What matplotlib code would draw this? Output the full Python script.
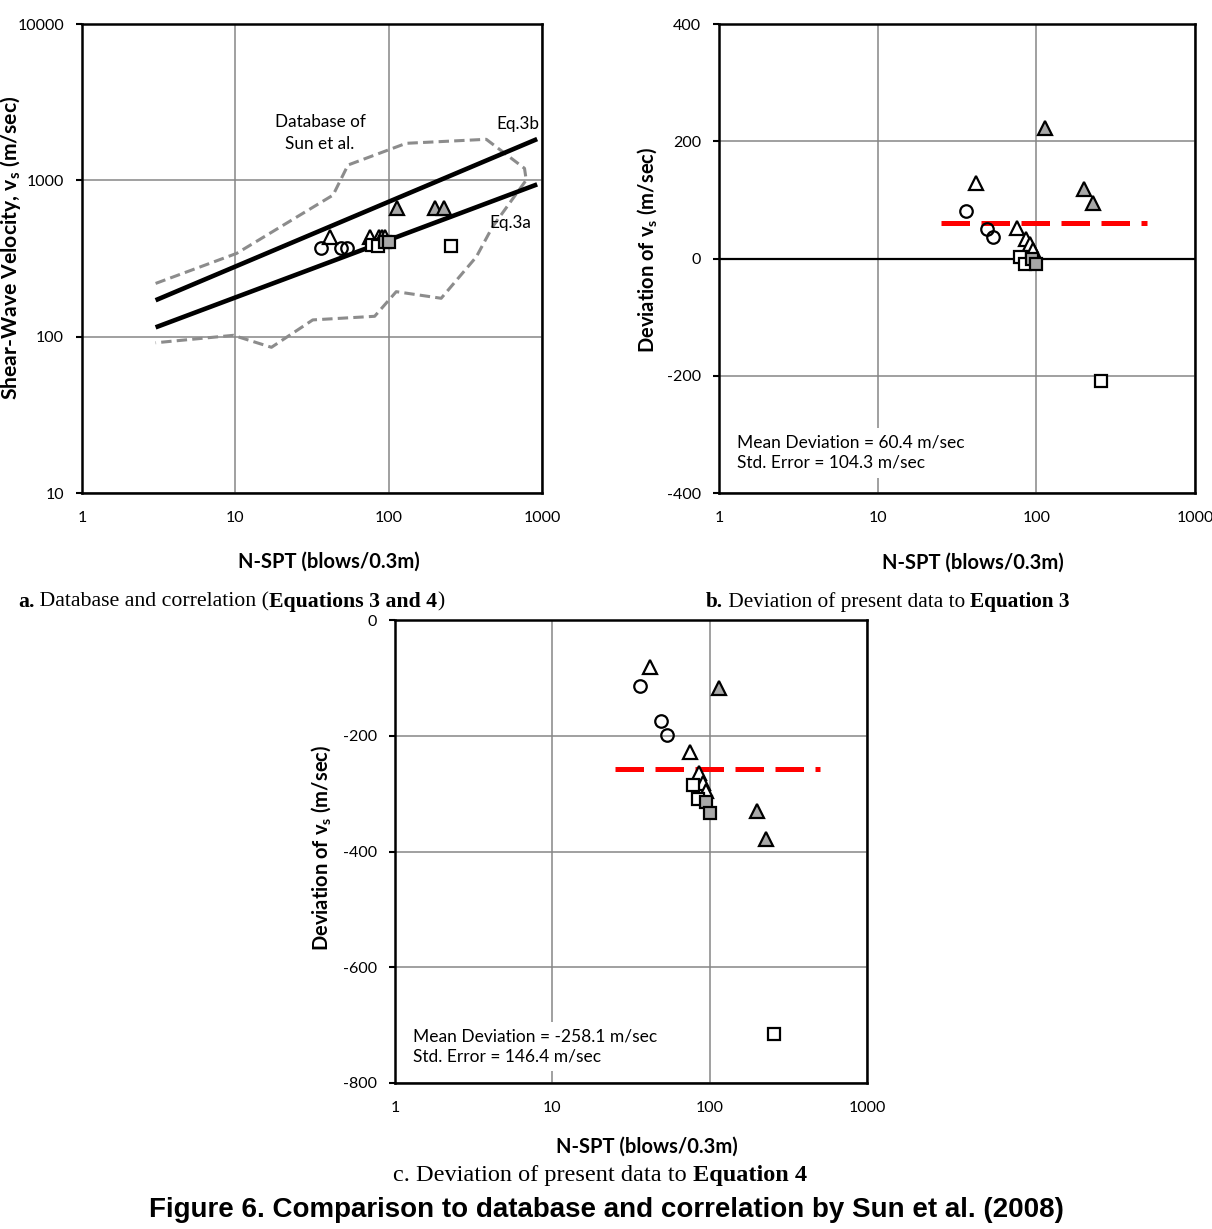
import matplotlib
matplotlib.use("Agg")
import matplotlib.pyplot as plt
import numpy as np

plt.rcParams['font.family'] = ['Lato', 'DejaVu Sans']
plt.rcParams['mathtext.fontset'] = 'custom'
plt.rcParams['mathtext.rm'] = 'Lato'
plt.rcParams['mathtext.bf'] = 'Lato:bold'
plt.rcParams['mathtext.it'] = 'Lato:italic'

W, H = 1212, 1229

# ---------------- data ----------------
n_circle = [36.2, 48.7, 53.2]
n_tri_open = [41.7, 75.5, 86, 90.6, 95.3]
n_tri_gray = [114, 201, 228]
n_sq_open = [78.4, 84.7, 256]
n_sq_gray = [94.5, 100]

vs_circle = [367, 367, 367]
vs_tri_open = [435, 435, 435, 435, 435]
vs_tri_gray = [662, 662, 662]
vs_sq_open = [383, 380, 382]
vs_sq_gray = [405, 405]

dev3_circle = [81, 50, 37]
dev3_tri_open = [128, 52.5, 33.6, 24, 15]
dev3_tri_gray = [222, 118, 95]
dev3_sq_open = [3, -10, -208.5]
dev3_sq_gray = [-1.7, -10]

dev4_circle = [-114, -175, -199.5]
dev4_tri_open = [-80.5, -228, -265, -281.5, -296]
dev4_tri_gray = [-118, -330, -379]
dev4_sq_open = [-285.6, -310, -715.5]
dev4_sq_gray = [-315, -333]

eq_n = [3.02, 930]
eq3a_vs = [114.7, 942]
eq3b_vs = [171, 1837]

db_n = [3.02, 10.2, 43.4, 54.3, 130, 433, 769, 789, 476, 373, 220, 112, 81, 32, 17.2, 9.7, 3.02]
db_vs = [219, 341, 805, 1253, 1725, 1830, 1193, 1004, 505, 324, 176, 194, 135, 128, 85.5, 102, 91.4]

mean_n = [25, 500]
mean_dev3 = 60.4
mean_dev4 = -258.1
std3 = 104.3
std4 = 146.4

x_ticks = [1, 10, 100, 1000]
x_ticklabels = ['1', '10', '100', '1000']
ya_ticks = [10, 100, 1000, 10000]
ya_ticklabels = ['10', '100', '1000', '10000']
yb_ticks = [-400, -200, 0, 200, 400]
yc_ticks = [-800, -600, -400, -200, 0]

GRID = '#868686'
GRAY_FILL = '#a8a8a8'
TICK_FS = 11.5

fig = plt.figure(figsize=(W / 100, H / 100), dpi=100)


def ax_rect(l, r, t, b):
    return [l / W, 1 - b / H, (r - l) / W, (b - t) / H]


def style_axes(ax):
    for s in ax.spines.values():
        s.set_linewidth(1.8)
        s.set_color('black')
    ax.grid(True, which='major', color=GRID, linewidth=1.1)
    ax.set_axisbelow(True)
    ax.minorticks_off()
    ax.tick_params(axis='y', which='major', direction='out', length=4, width=1.5,
                   pad=9, labelsize=TICK_FS)
    ax.tick_params(axis='x', which='major', length=0, pad=13, labelsize=TICK_FS)
    ax.tick_params(which='minor', length=0)


def draw_points(ax, yc, yto, ytg, yso, ysg):
    ms = 9
    mew = 1.6
    ax.plot(n_tri_open, yto, linestyle='none', marker='^', ms=ms + 0.5, mfc='white', mec='black', mew=mew, zorder=4)
    ax.plot(n_tri_gray, ytg, linestyle='none', marker='^', ms=ms + 0.5, mfc=GRAY_FILL, mec='black', mew=mew, zorder=4)
    ax.plot(n_circle, yc, linestyle='none', marker='o', ms=ms, mfc='none', mec='black', mew=mew, zorder=4)
    ax.plot(n_sq_open, yso, linestyle='none', marker='s', ms=ms - 0.5, mfc='white', mec='black', mew=mew, zorder=5)
    ax.plot(n_sq_gray, ysg, linestyle='none', marker='s', ms=ms - 0.5, mfc=GRAY_FILL, mec='black', mew=mew, zorder=5)


# ---------------- panel a ----------------
axa = fig.add_axes(ax_rect(82, 542, 24, 493))
axa.set_xscale('log')
axa.set_yscale('log')
axa.set_xlim(1, 1000)
axa.set_ylim(10, 10000)
axa.set_xticks(x_ticks, x_ticklabels)
axa.set_yticks(ya_ticks, ya_ticklabels)
style_axes(axa)
axa.plot(db_n, db_vs, color='#8c8c8c', lw=2.2, dashes=(3.4, 1.7), zorder=3)
axa.plot(eq_n, eq3b_vs, color='black', lw=3.3, solid_capstyle='butt', zorder=3)
axa.plot(eq_n, eq3a_vs, color='black', lw=3.3, solid_capstyle='butt', zorder=3)
draw_points(axa, vs_circle, vs_tri_open, vs_tri_gray, vs_sq_open, vs_sq_gray)
fig.text(320 / W, 1 - 133 / H, 'Database of\nSun et al.', ha='center', va='center',
         fontsize=12.3, linespacing=1.45)
fig.text(539 / W, 1 - 124 / H, 'Eq.3b', ha='right', va='center', fontsize=12.3)
fig.text(510 / W, 1 - 223 / H, 'Eq.3a', ha='center', va='center', fontsize=12.3)

# ---------------- panel b ----------------
axb = fig.add_axes(ax_rect(719, 1195, 24, 493))
axb.set_xscale('log')
axb.set_xlim(1, 1000)
axb.set_ylim(-400, 400)
axb.set_xticks(x_ticks, x_ticklabels)
axb.set_yticks(yb_ticks, [str(v) for v in yb_ticks])
style_axes(axb)
axb.axhline(0, color='black', lw=1.6, zorder=2)
axb.plot(mean_n, [mean_dev3, mean_dev3], color='#ff0000', lw=3.6, dashes=(5.7, 2.3), zorder=3)
draw_points(axb, dev3_circle, dev3_tri_open, dev3_tri_gray, dev3_sq_open, dev3_sq_gray)
axb.text(0.038, 0.086, 'Mean Deviation = %.1f m/sec\nStd. Error = %.1f m/sec' % (mean_dev3, std3),
         transform=axb.transAxes, ha='left', va='center', fontsize=12.5, linespacing=1.3,
         bbox=dict(facecolor='white', edgecolor='none', pad=5), zorder=6)

# ---------------- panel c ----------------
axc = fig.add_axes(ax_rect(395, 867, 620, 1083))
axc.set_xscale('log')
axc.set_xlim(1, 1000)
axc.set_ylim(-800, 0)
axc.set_xticks(x_ticks, x_ticklabels)
axc.set_yticks(yc_ticks, [str(v) for v in yc_ticks])
style_axes(axc)
axc.plot(mean_n, [mean_dev4, mean_dev4], color='#ff0000', lw=3.6, dashes=(5.7, 2.3), zorder=3)
draw_points(axc, dev4_circle, dev4_tri_open, dev4_tri_gray, dev4_sq_open, dev4_sq_gray)
axc.text(0.038, 0.079, 'Mean Deviation = %.1f m/sec\nStd. Error = %.1f m/sec' % (mean_dev4, std4),
         transform=axc.transAxes, ha='left', va='center', fontsize=12.5, linespacing=1.3,
         bbox=dict(facecolor='white', edgecolor='none', pad=5), zorder=6)

# ---------------- axis labels ----------------
LAB_FS = 14.5
xl = 'N-SPT (blows/0.3m)'
fig.text(329 / W, 1 - 562 / H, xl, ha='center', va='center', fontsize=LAB_FS, weight='bold')
fig.text(973 / W, 1 - 563 / H, xl, ha='center', va='center', fontsize=LAB_FS, weight='bold')
fig.text(647 / W, 1 - 1147 / H, xl, ha='center', va='center', fontsize=LAB_FS, weight='bold')
fig.text(11 / W, 1 - 248 / H, r'Shear-Wave Velocity, v$_\mathbf{s}$ (m/sec)', rotation=90,
         ha='center', va='center', fontsize=15.2, weight='bold')
fig.text(647 / W, 1 - 250 / H, r'Deviation of v$_\mathbf{s}$ (m/sec)', rotation=90,
         ha='center', va='center', fontsize=LAB_FS, weight='bold')
fig.text(321 / W, 1 - 848 / H, r'Deviation of v$_\mathbf{s}$ (m/sec)', rotation=90,
         ha='center', va='center', fontsize=LAB_FS, weight='bold')

# ---------------- captions ----------------
renderer = fig.canvas.get_renderer()
SERIF = ['Liberation Serif', 'DejaVu Serif']


def text_width(s, size, family, weight):
    t1 = fig.text(0, 0, '|' + s + '|', fontsize=size, family=family, weight=weight)
    t2 = fig.text(0, 0, '||', fontsize=size, family=family, weight=weight)
    w = t1.get_window_extent(renderer).width - t2.get_window_extent(renderer).width
    t1.remove()
    t2.remove()
    return w


def rich(x_px, y_px, parts, size, family):
    x = x_px
    for s, w in parts:
        fig.text(x / W, 1 - y_px / H, s, fontsize=size, family=family, weight=w,
                 ha='left', va='center')
        x += text_width(s, size, family, w)


rich(18, 602, [('a.', 'bold'), (' Database and correlation (', 'normal'),
               ('Equations 3 and 4', 'bold'), (')', 'normal')], 15.7, SERIF)
rich(706, 602, [('b.', 'bold'), (' Deviation of present data to ', 'normal'),
                ('Equation 3', 'bold')], 15.3, SERIF)
rich(393, 1176, [('c. Deviation of present data to ', 'normal'),
                 ('Equation 4', 'bold')], 17.5, SERIF)

fig.text(606 / W, 1 - 1210 / H, 'Figure 6. Comparison to database and correlation by Sun et al. (2008)',
         ha='center', va='center', fontsize=20, weight='bold',
         family=['Liberation Sans', 'DejaVu Sans'])

fig.savefig('out.png', dpi=100)
